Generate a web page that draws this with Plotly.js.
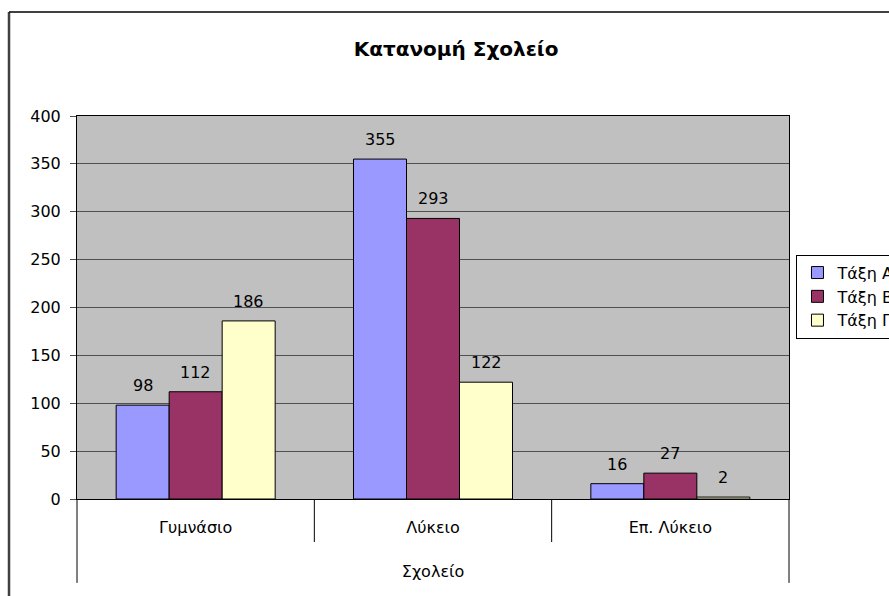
<!DOCTYPE html>
<html>
<head>
<meta charset="utf-8">
<script src="https://cdn.plot.ly/plotly-3.0.1.min.js"></script>
<style>html,body{margin:0;padding:0;background:#fff;}#chart{width:889px;height:596px;}</style>
</head>
<body>
<div id="chart"></div>
<script>
const categories = ['Γυμνάσιο', 'Λύκειο', 'Επ. Λύκειο'];
const seriesNames = ['Τάξη Α', 'Τάξη Β', 'Τάξη Γ'];
const taxiA = [98, 355, 16];
const taxiB = [112, 293, 27];
const taxiG = [186, 122, 2];
const yTicks = [0, 50, 100, 150, 200, 250, 300, 350, 400];

const seriesValues = [taxiA, taxiB, taxiG];
const colors = ['#9999FF', '#993366', '#FFFFCC'];
const FONT = 'DejaVu Sans, Liberation Sans, Arial, sans-serif';
const bargap = 0.33;
const barW = (1 - bargap) / seriesValues.length;

const traces = seriesValues.map((vals, i) => ({
  type: 'bar',
  name: seriesNames[i],
  x: categories,
  y: vals,
  marker: {color: colors[i], line: {color: '#000', width: 1}},
  hoverinfo: 'none'
}));

const annotations = [];
seriesValues.forEach((vals, i) => {
  vals.forEach((v, c) => {
    annotations.push({
      x: c + (i - (seriesValues.length - 1) / 2) * barW,
      y: v,
      xref: 'x', yref: 'y',
      text: String(v),
      showarrow: false,
      yanchor: 'bottom',
      yshift: 8,
      font: {family: FONT, size: 16, color: '#000'}
    });
  });
});

const shapes = [
  // outer frame (left + top visible)
  {type: 'line', xref: 'paper', yref: 'paper', x0: -0.0955, x1: -0.0955, y0: 1.2715, y1: -0.3, line: {color: '#404040', width: 2.5}},
  {type: 'line', xref: 'paper', yref: 'paper', x0: -0.0955, x1: 1.3, y0: 1.2715, y1: 1.2715, line: {color: '#000', width: 1.5}},
  // category dividers
  {type: 'line', xref: 'paper', yref: 'paper', x0: 0, x1: 0, y0: 0, y1: -0.219, line: {color: '#000', width: 1}},
  {type: 'line', xref: 'paper', yref: 'paper', x0: 1, x1: 1, y0: 0, y1: -0.219, line: {color: '#000', width: 1}},
  {type: 'line', xref: 'x', yref: 'paper', x0: 0.5, x1: 0.5, y0: 0, y1: -0.1123, line: {color: '#000', width: 1}},
  {type: 'line', xref: 'x', yref: 'paper', x0: 1.5, x1: 1.5, y0: 0, y1: -0.1123, line: {color: '#000', width: 1}}
];

const layout = {
  width: 889, height: 596,
  margin: {l: 77, r: 100, t: 116, b: 97, pad: 0, autoexpand: false},
  paper_bgcolor: '#fff',
  plot_bgcolor: '#C0C0C0',
  font: {family: FONT, size: 16, color: '#000'},
  title: {text: '<b>Κατανομή Σχολείο</b>', x: 0.513, xanchor: 'center', y: 0.918, yanchor: 'middle', font: {family: FONT, size: 20, color: '#000'}},
  barmode: 'group',
  bargap: bargap,
  bargroupgap: 0,
  showlegend: true,
  legend: {x: 1.0105, xanchor: 'left', y: 0.638, yanchor: 'top', bgcolor: '#fff', bordercolor: '#000', borderwidth: 1, font: {family: FONT, size: 16}, tracegroupgap: 0},
  xaxis: {
    type: 'category',
    showgrid: false,
    showline: true, linecolor: '#000', linewidth: 1, mirror: true,
    ticks: '',
    ticklabelstandoff: 14,
    tickfont: {family: FONT, size: 16},
    title: {text: 'Σχολείο', standoff: 29, font: {family: FONT, size: 16}},
    fixedrange: true
  },
  yaxis: {
    range: [0, 400],
    tickvals: yTicks,
    showgrid: true, gridcolor: '#505050', gridwidth: 1,
    showline: true, linecolor: '#000', linewidth: 1, mirror: true,
    ticks: 'outside', ticklen: 6, tickcolor: '#505050', tickwidth: 1,
    ticklabelstandoff: 6,
    tickfont: {family: FONT, size: 16},
    zeroline: false,
    fixedrange: true
  },
  shapes: shapes,
  annotations: annotations
};

Plotly.newPlot('chart', traces, layout, {displayModeBar: false, staticPlot: true});
</script>
</body>
</html>
